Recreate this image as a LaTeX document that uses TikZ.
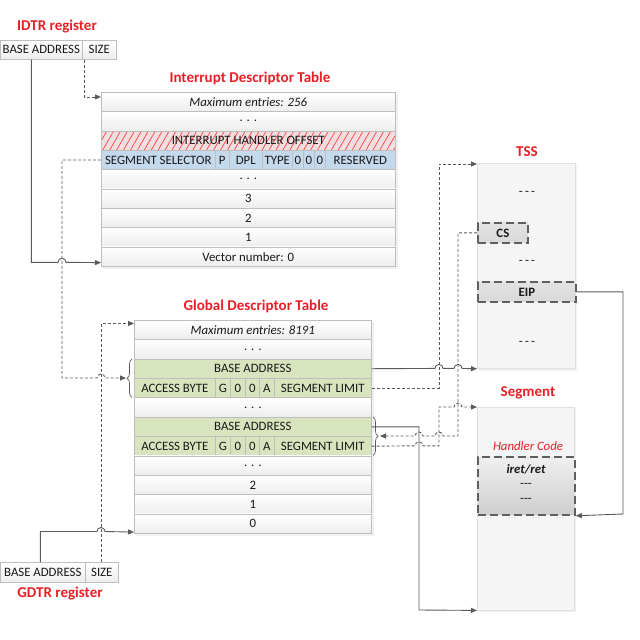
\documentclass[tikz,border=0pt]{standalone}
\usepackage{fontspec}
\setmainfont{Carlito}
\usetikzlibrary{arrows.meta,patterns.meta,decorations.pathreplacing}
\definecolor{tred}{RGB}{234,30,37}
\definecolor{lgray}{RGB}{190,190,190}
\definecolor{linec}{RGB}{90,90,90}
\definecolor{gfill}{RGB}{216,228,190}
\definecolor{bfill}{RGB}{197,217,237}
\definecolor{pfill}{RGB}{240,222,224}
\definecolor{dbord}{RGB}{95,95,95}
\newcommand\cellfont{\fontsize{12.8}{14}\selectfont}
\newcommand\cellat[7]{\node[#2,minimum width={#4pt-#3pt},minimum height=#6pt] (#1) at (#3,#5) {#7};}
\begin{document}
\begin{tikzpicture}[x=1pt,y=-1pt,
  cellb/.style={draw=lgray,line width=0.6pt,inner sep=0pt,anchor=north west,font=\cellfont,text=black!90},
  grayrow/.style={cellb,top color=white,bottom color=gray!14},
  gcell/.style={cellb,fill=gfill},
  bcell/.style={cellb,fill=bfill},
  hcell/.style={cellb,preaction={fill=pfill},pattern={Lines[angle=60,distance=6pt,line width=0.7pt]},pattern color=red!75},
  ttl/.style={font=\fontsize{15}{17}\selectfont\bfseries,text=tred},
  bigbox/.style={draw=gray!25,fill=gray!8,anchor=north west,inner sep=0pt},
  dbox/.style={draw=dbord,line width=1.8pt,dash pattern=on 8pt off 4pt,anchor=north west,inner sep=0pt,font=\cellfont\bfseries,text=black!90,top color=gray!22,bottom color=gray!30},
  conn/.style={draw=linec,line width=0.9pt,-{Triangle[length=6pt,width=5pt]}},
  dconn/.style={conn,dash pattern=on 3pt off 2pt},
  brc/.style={draw=linec,line width=0.7pt,decorate,decoration={brace,amplitude=5pt}},
  txt/.style={font=\cellfont,text=black!90,inner sep=0pt},
  shd/.style={fill=gray!12}
]
\useasboundingbox (0,0) rectangle (640,640);

% soft shadows
\path[shd] (103,94) rectangle (397.5,268.5);
\path[shd] (136,322) rectangle (373.5,535.5);
\path[shd] (479,165) rectangle (577,370.5);
\path[shd] (479,409) rectangle (576,612);

% titles
\node[ttl] (idtrT) at (57,27) {IDTR register};
\node[ttl] (idtT) at (250,78) {Interrupt Descriptor Table};
\node[ttl] (gdtT) at (256,306) {Global Descriptor Table};
\node[ttl] (gdtrT) at (60,594) {GDTR register};
\node[ttl] (tssT) at (527,152) {TSS};
\node[ttl] (segT) at (528,393) {Segment};

% registers
\cellat{idtrB}{grayrow}{0}{82}{40}{19}{BASE ADDRESS}
\cellat{idtrS}{grayrow}{82}{116}{40}{19}{SIZE}
\cellat{gdtrB}{grayrow}{0}{85}{562}{20}{BASE ADDRESS}
\cellat{gdtrS}{grayrow}{85}{118}{562}{20}{SIZE}

% IDT
\cellat{idt0}{grayrow}{101}{395}{92}{19.33}{\itshape Maximum entries: 256}
\cellat{idt1}{grayrow}{101}{395}{111.33}{19.33}{. . .}
\cellat{idt2}{hcell}{101}{395}{130.67}{19.33}{INTERRUPT HANDLER OFFSET}
\cellat{ss}{bcell}{101}{215}{150}{19.33}{SEGMENT SELECTOR}
\cellat{ssP}{bcell}{215}{229}{150}{19.33}{P}
\cellat{ssD}{bcell}{229}{262}{150}{19.33}{DPL}
\cellat{ssT}{bcell}{262}{292}{150}{19.33}{TYPE}
\cellat{ssZa}{bcell}{292}{303}{150}{19.33}{0}
\cellat{ssZb}{bcell}{303}{314}{150}{19.33}{0}
\cellat{ssZc}{bcell}{314}{325}{150}{19.33}{0}
\cellat{ssR}{bcell}{325}{395}{150}{19.33}{RESERVED}
\cellat{idt4}{grayrow}{101}{395}{169.33}{19.33}{. . .}
\cellat{idt5}{grayrow}{101}{395}{188.67}{19.33}{3}
\cellat{idt6}{grayrow}{101}{395}{208}{19.33}{2}
\cellat{idt7}{grayrow}{101}{395}{227.33}{19.33}{1}
\cellat{idt8}{grayrow}{101}{395}{246.67}{19.33}{Vector number: 0}

% GDT
\cellat{gdt0}{grayrow}{134}{371}{320}{19.36}{\itshape Maximum entries: 8191}
\cellat{gdt1}{grayrow}{134}{371}{339.36}{19.36}{. . .}
\cellat{gdt2}{gcell}{134}{371}{358.73}{19.36}{BASE ADDRESS}
\cellat{ab1}{gcell}{134}{215}{378.09}{19.36}{ACCESS BYTE}
\cellat{g1}{gcell}{215}{230}{378.09}{19.36}{G}
\cellat{za1}{gcell}{230}{245}{378.09}{19.36}{0}
\cellat{zb1}{gcell}{245}{259}{378.09}{19.36}{0}
\cellat{a1}{gcell}{259}{274}{378.09}{19.36}{A}
\cellat{sl1}{gcell}{274}{371}{378.09}{19.36}{SEGMENT LIMIT}
\cellat{gdt4}{grayrow}{134}{371}{397.45}{19.36}{. . .}
\cellat{gdt5}{gcell}{134}{371}{416.82}{19.36}{BASE ADDRESS}
\cellat{ab2}{gcell}{134}{215}{436.18}{19.36}{ACCESS BYTE}
\cellat{g2}{gcell}{215}{230}{436.18}{19.36}{G}
\cellat{za2}{gcell}{230}{245}{436.18}{19.36}{0}
\cellat{zb2}{gcell}{245}{259}{436.18}{19.36}{0}
\cellat{a2}{gcell}{259}{274}{436.18}{19.36}{A}
\cellat{sl2}{gcell}{274}{371}{436.18}{19.36}{SEGMENT LIMIT}
\cellat{gdt7}{grayrow}{134}{371}{455.55}{19.36}{. . .}
\cellat{gdt8}{grayrow}{134}{371}{474.91}{19.36}{2}
\cellat{gdt9}{grayrow}{134}{371}{494.27}{19.36}{1}
\cellat{gdt10}{grayrow}{134}{371}{513.64}{19.36}{0}

% braces
\draw[brc] (132,397.5) -- (132,359);
\draw[brc] (373,417) -- (373,455.5);
\coordinate (brL) at (126,378);
\coordinate (brR) at (380,436);

% TSS
\node[bigbox,minimum width=98pt,minimum height=205.4pt] (tss) at (477,163) {};
\node[txt] (t1) at (527,193) {-\,-\,-};
\node[dbox,minimum width=50pt,minimum height=20pt] (cs) at (477,222) {CS};
\node[txt] (t2) at (527,262) {-\,-\,-};
\node[dbox,minimum width=98pt,minimum height=20pt] (eip) at (477,281) {EIP};
\node[txt] (t3) at (527,343) {-\,-\,-};

% Segment
\node[bigbox,minimum width=97pt,minimum height=203pt] (seg) at (477,407) {};
\node[txt,text=tred,font=\cellfont\itshape] (hct) at (528,446) {Handler Code};
\node[dbox,minimum width=97pt,minimum height=58pt,top color=gray!12,bottom color=gray!38] (hc) at (477,456) {};
\node[txt,font=\cellfont\bfseries\itshape] (iret) at (526,469) {iret/ret};
\node[txt] (h1) at (526,485) {-{}-{}-};
\node[txt] (h2) at (526,500) {-{}-{}-};

% connectors
\draw[conn] ([xshift=-10pt]idtrB.south) |- (58,262.3) arc[start angle=180,end angle=0,radius=4pt] -- ([yshift=-6pt]idt8.west);
\draw[dconn] ([xshift=-15pt]idtrS.south) |- ([yshift=5pt]idt0.west);
\draw[dconn] (ss.west) -| (62,378) -- (97,378) arc[start angle=180,end angle=0,radius=4pt] -- (brL);
\draw[conn] ([xshift=-2.5pt]gdtrB.north) |- (97,531.5) arc[start angle=180,end angle=0,radius=4pt] -- ([yshift=1.5pt]gdt10.south west);
\draw[dconn] ([xshift=-0.5pt]gdtrS.north) |- ([yshift=6.5pt]gdt0.west);
\draw[conn] (gdt2.east) -- (435,368.41) arc[start angle=180,end angle=0,radius=4pt] -- (454,368.41) arc[start angle=180,end angle=0,radius=4pt] -- (tss.south west);
\draw[dconn] (sl1.east) -| (439,164) -- ([yshift=-1pt]tss.north west);
\draw[dconn] (cs.west) -| (458,436) -- (443,436) arc[start angle=0,end angle=180,radius=4pt] -- (423,436) arc[start angle=0,end angle=180,radius=4pt] -- (brR);
\draw[dconn] (sl2.east) -- (415,445.86) arc[start angle=180,end angle=0,radius=4pt] -- (439,445.86) |- (454,407) arc[start angle=180,end angle=0,radius=4pt] -- (seg.north west);
\draw[conn] (gdt5.east) -| (419,610) -- (seg.south west);
\draw[conn] (eip.east) -| (623,514) -- (hc.south east);
\end{tikzpicture}
\end{document}
